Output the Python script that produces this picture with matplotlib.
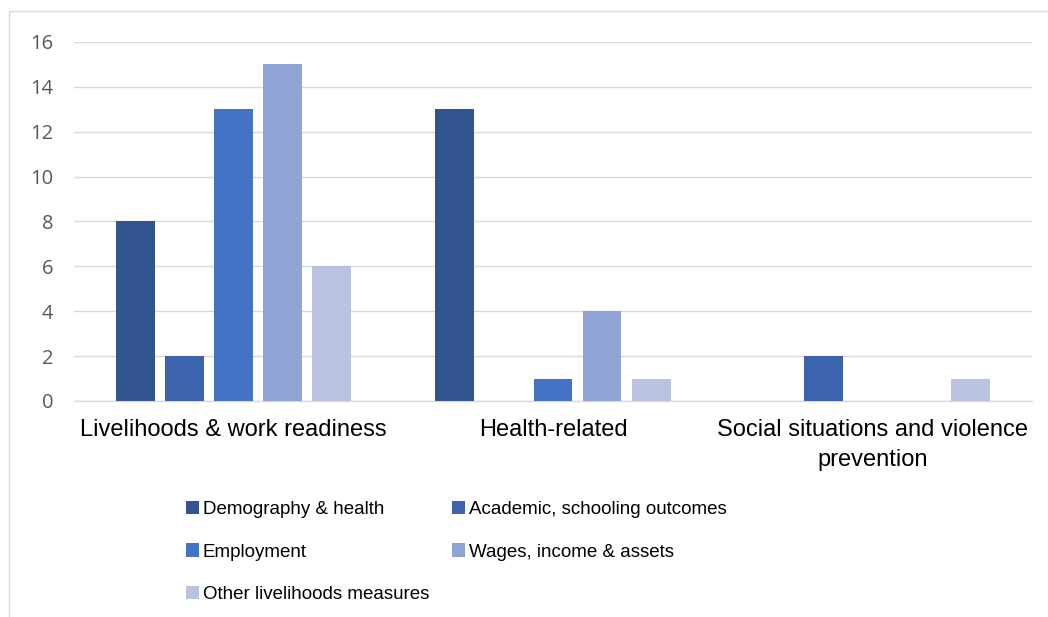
import numpy as np
import matplotlib
matplotlib.use("Agg")
import matplotlib.pyplot as plt
from matplotlib.patches import Rectangle

# Data
categories = ["Livelihoods & work readiness", "Health-related",
              "Social situations and violence\nprevention"]
series_names = ["Demography & health", "Academic, schooling outcomes",
                "Employment", "Wages, income & assets",
                "Other livelihoods measures"]
demography = [8, 13, 0]
academic = [2, 0, 2]
employment = [13, 1, 0]
wages = [15, 4, 0]
other = [6, 1, 1]

colors = ["#325592", "#3B64AD", "#4472C4", "#8FA4D4", "#B9C3E1"]
all_series = [demography, academic, employment, wages, other]

plt.rcParams['font.family'] = ['Liberation Sans', 'DejaVu Sans']

fig = plt.figure(figsize=(10.48, 6.17), dpi=100)
ax = fig.add_axes([74 / 1048, 216 / 617, 958 / 1048, 359 / 617])

x = np.arange(len(categories))
width = 0.122
step = 0.1535
bars = []
for i, (name, vals) in enumerate(zip(series_names, all_series)):
    b = ax.bar(x + (i - 2) * step, vals, width, color=colors[i], label=name, zorder=3)
    bars.append(b)

ax.set_xlim(-0.5, 2.5)
ax.set_ylim(0, 16)
ax.set_yticks(range(0, 17, 2))
ax.yaxis.grid(True, color="#D9D9D9", linewidth=1.0, zorder=0)
ax.set_axisbelow(True)

for s in ["top", "right", "left"]:
    ax.spines[s].set_visible(False)
ax.spines["bottom"].set_color("#D9D9D9")
ax.spines["bottom"].set_linewidth(1.0)

ax.set_xticks(x)
ax.set_xticklabels(categories, fontsize=17, color="#000000", linespacing=1.45)
ax.tick_params(axis="x", length=0, pad=13)
ax.tick_params(axis="y", length=0, pad=15, labelsize=14.5, labelcolor="#595959")
for lab in ax.get_yticklabels():
    lab.set_family(["Open Sans", "DejaVu Sans"])

# legend filled row by row like the original
order = [0, 2, 4, 1, 3]
fig.legend([bars[i] for i in order], [series_names[i] for i in order],
           loc="upper left", bbox_to_anchor=(186 / 1048, 0.188), ncol=2,
           frameon=False, fontsize=13.5, handlelength=0.7, handleheight=0.7,
           handletextpad=0.2, columnspacing=1.2, labelspacing=1.35,
           borderpad=0, borderaxespad=0)

# light border of the chart area (only top and left visible in the crop)
fig.add_artist(Rectangle((9 / 1048, -0.1), 2, (617 - 11) / 617 + 0.1,
                         transform=fig.transFigure, fill=False,
                         edgecolor="#D9D9D9", linewidth=1.0, clip_on=False))

fig.savefig("out.png", dpi=100)
